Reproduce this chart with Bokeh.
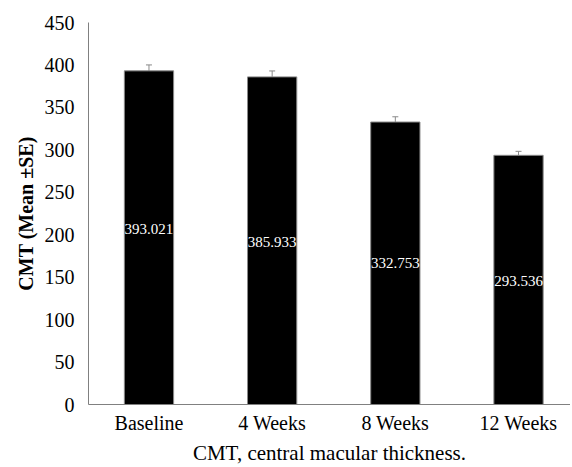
from bokeh.plotting import figure
from bokeh.models import ColumnDataSource, Whisker, TeeHead, Range1d, FixedTicker, Label
from bokeh.core.properties import value
from bokeh.embed import file_html
from bokeh.resources import INLINE

categories = ["Baseline", "4 Weeks", "8 Weeks", "12 Weeks"]
means = [393.021, 385.933, 332.753, 293.536]
se = [7.0, 7.0, 6.2, 4.7]
value_labels = ["393.021", "385.933", "332.753", "293.536"]
label_y = [207, 191, 167, 145]
y_ticks = [0, 50, 100, 150, 200, 250, 300, 350, 400, 450]

x = list(range(len(categories)))
src = ColumnDataSource(dict(
    x=x, top=means, upper=[m + s for m, s in zip(means, se)],
    lab=value_labels, ly=label_y,
))

FONT = "Liberation Serif"

p = figure(width=570, height=467, output_backend="svg", toolbar_location=None,
           x_range=Range1d(-0.491, 3.422), y_range=Range1d(0, 450),
           min_border_left=88, min_border_top=22, min_border_bottom=63, min_border_right=0)
p.outline_line_color = None
p.xgrid.grid_line_color = None
p.ygrid.grid_line_color = None

# outer frame of the figure (only its top and left edges fall inside the canvas)
PAD = 1000
frame_edge = Label(x=14 + PAD, y=9 + PAD, x_units="canvas", y_units="canvas", text=" ",
                   text_font_size="1px", text_align="left", text_baseline="top",
                   padding=PAD, border_line_color="#222222", border_line_width=2,
                   background_fill_color=None, level="overlay")
p.add_layout(frame_edge)

p.vbar(x="x", top="top", width=0.40, source=src, fill_color="black", line_color="#8a8a8a", line_width=1)
w = Whisker(base="x", lower="top", upper="upper", source=src, line_color="#8a8a8a", line_width=1,
            upper_head=TeeHead(size=6, line_color="#8a8a8a", line_width=1), lower_head=None)
p.add_layout(w)
p.text(x="x", y="ly", text="lab", source=src, text_color="white", text_align="center",
       text_baseline="middle", text_font_size="15px", text_font=value(FONT))

p.yaxis.ticker = FixedTicker(ticks=y_ticks)
p.xaxis.ticker = FixedTicker(ticks=x)
p.xaxis.major_label_overrides = {i: c for i, c in zip(x, categories)}

for ax in (p.xaxis[0], p.yaxis[0]):
    ax.axis_line_color = "#808080"
    ax.major_tick_line_color = None
    ax.minor_tick_line_color = None
    ax.major_label_text_font = FONT
    ax.major_label_text_font_size = "20px"
    ax.major_label_text_color = "black"
    ax.axis_label_text_font = FONT
    ax.axis_label_text_color = "black"

p.yaxis.major_label_standoff = 8
p.xaxis.major_label_standoff = 1
p.yaxis.axis_label = "CMT (Mean ±SE)"
p.yaxis.axis_label_text_font_style = "bold"
p.yaxis.axis_label_text_font_size = "20px"
p.yaxis.axis_label_standoff = 5
p.xaxis.axis_label = "CMT, central macular thickness."
p.xaxis.axis_label_text_font_style = "normal"
p.xaxis.axis_label_text_font_size = "21px"
p.xaxis.axis_label_standoff = 4

open("out.html", "w").write(file_html(p, INLINE))
